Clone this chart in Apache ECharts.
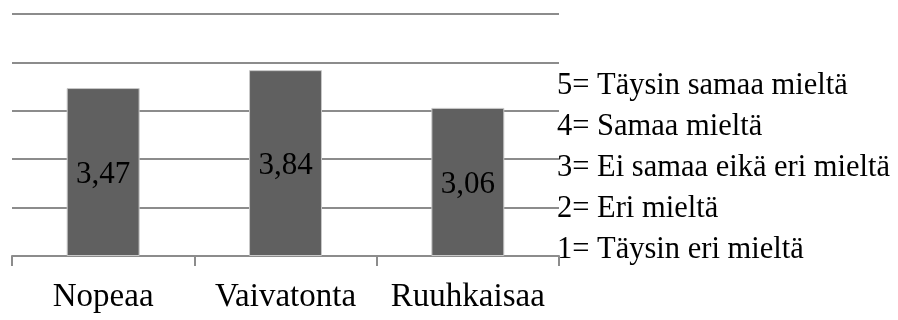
<!DOCTYPE html>
<html>
<head>
<meta charset="utf-8">
<script src="https://cdn.jsdelivr.net/npm/echarts@6/dist/echarts.min.js"></script>
<style>
  html, body { margin: 0; padding: 0; background: #fff; }
  #chart { width: 898px; height: 320px; }
</style>
</head>
<body>
<div id="chart"></div>
<script>
// Survey answers: mean score per statement on a 1–5 scale
const categories = ['Nopeaa', 'Vaivatonta', 'Ruuhkaisaa'];
const meanScores = [3.47, 3.84, 3.06];
const scaleLabels = [
  '5= Täysin samaa mieltä',
  '4= Samaa mieltä',
  '3= Ei samaa eikä eri mieltä',
  '2= Eri mieltä',
  '1= Täysin eri mieltä'
];

const FONT = '"Liberation Serif", "DejaVu Serif", serif';
const chart = echarts.init(document.getElementById('chart'), null, { renderer: 'canvas' });

chart.setOption({
  animation: false,
  backgroundColor: '#ffffff',
  grid: { left: 12, right: 339, top: 14, bottom: 64, containLabel: false },
  xAxis: {
    type: 'category',
    data: categories,
    axisLine: { show: true, lineStyle: { color: '#8c8c8c', width: 2 } },
    axisTick: { show: true, interval: 0, length: 10, lineStyle: { color: '#8c8c8c', width: 2 } },
    axisLabel: {
      interval: 0, hideOverlap: false,
      color: '#000', fontFamily: FONT, fontSize: 33, margin: 25
    }
  },
  yAxis: {
    type: 'value',
    min: 0, max: 5, interval: 1,
    axisLine: { show: false },
    axisTick: { show: false },
    axisLabel: { show: false },
    splitLine: { lineStyle: { color: '#8c8c8c', width: 2 } }
  },
  series: [{
    type: 'bar',
    data: meanScores,
    barWidth: '40%',
    itemStyle: { color: '#606060', borderColor: '#c8c8c8', borderWidth: 1 },
    label: {
      show: true,
      position: 'inside',
      offset: [0, 3],
      formatter: p => p.value.toFixed(2).replace('.', ','),
      color: '#000', fontFamily: FONT, fontSize: 31
    }
  }],
  graphic: scaleLabels.map((t, i) => ({
    type: 'text',
    left: 557,
    top: 70 + i * 41,
    style: { text: t, fill: '#000', font: '30.5px ' + FONT }
  }))
});
</script>
</body>
</html>
